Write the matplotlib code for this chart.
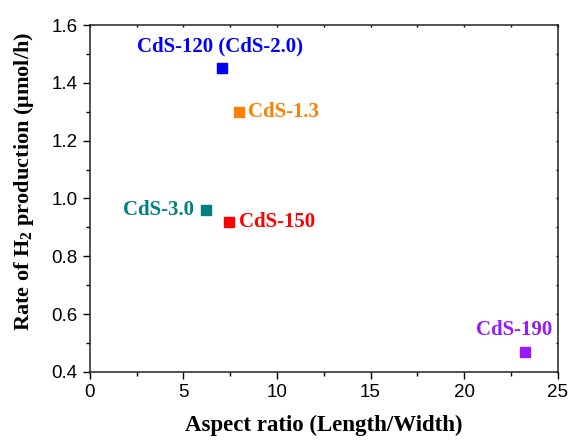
import matplotlib
matplotlib.use('Agg')
from matplotlib import pyplot as plt

# данные
names = ['CdS-120 (CdS-2.0)', 'CdS-1.3', 'CdS-3.0', 'CdS-150', 'CdS-190']
aspect_ratio = [7.05, 7.95, 6.2, 7.45, 23.25]
rate_h2 = [1.45, 1.30, 0.96, 0.92, 0.47]
colors = ['#0000FF', '#FF8000', '#008080', '#FF0000', '#9A1AFF']

# подписи: (x, y, ha)
label_pos = [(6.96, 1.527, 'center'),
             (8.45, 1.30, 'left'),
             (5.55, 0.96, 'right'),
             (7.95, 0.92, 'left'),
             (22.7, 0.544, 'center')]

plt.rcParams['mathtext.fontset'] = 'custom'
plt.rcParams['mathtext.rm'] = 'Liberation Serif:bold'
plt.rcParams['mathtext.bf'] = 'Liberation Serif:bold'

fig = plt.figure(figsize=(5.69, 4.4), dpi=100)
ax = fig.add_axes([0.158, 0.155, 0.822, 0.788])

for x, y, c in zip(aspect_ratio, rate_h2, colors):
    ax.plot(x, y, marker='s', markersize=7, color=c, linestyle='none')

for name, (x, y, ha), c in zip(names, label_pos, colors):
    ax.text(x, y, name, color=c, ha=ha, va='center', fontsize=15,
            family='Liberation Serif', fontweight='bold')

ax.set_xlim(0, 25)
ax.set_ylim(0.4, 1.6)
ax.set_xticks([0, 5, 10, 15, 20, 25])
ax.set_yticks([0.4, 0.6, 0.8, 1.0, 1.2, 1.4, 1.6])
ax.set_xticks([2.5, 7.5, 12.5, 17.5, 22.5], minor=True)
ax.set_yticks([0.5, 0.7, 0.9, 1.1, 1.3, 1.5], minor=True)

for sp in ax.spines.values():
    sp.set_linewidth(1.1)
    sp.set_color('#222222')

ax.tick_params(axis='both', which='major', direction='out', length=5, width=1, labelsize=13.5,
               top=True, right=True, pad=4)
ax.tick_params(axis='both', which='minor', direction='out', length=3, width=1,
               top=True, right=True)
for t in ax.xaxis.get_ticklabels() + ax.yaxis.get_ticklabels():
    t.set_family('Liberation Sans')
# короткие засечки сверху и справа внутрь
for tick in ax.xaxis.get_major_ticks() + ax.xaxis.get_minor_ticks():
    tick.tick2line.set_marker(3)
    tick.tick2line.set_markersize(1.5)
for tick in ax.yaxis.get_major_ticks() + ax.yaxis.get_minor_ticks():
    tick.tick2line.set_marker(0)
    tick.tick2line.set_markersize(1.5)

ax.set_xlabel('Aspect ratio (Length/Width)', fontsize=16.5, family='Liberation Serif',
              fontweight='bold', labelpad=10)
ax.set_ylabel(r'Rate of H$_{2}$ production (μmol/h)', fontsize=16,
              family='Liberation Serif', fontweight='bold')
ax.yaxis.set_label_coords(-0.116, 0.55)

fig.savefig('out.png', dpi=100)
